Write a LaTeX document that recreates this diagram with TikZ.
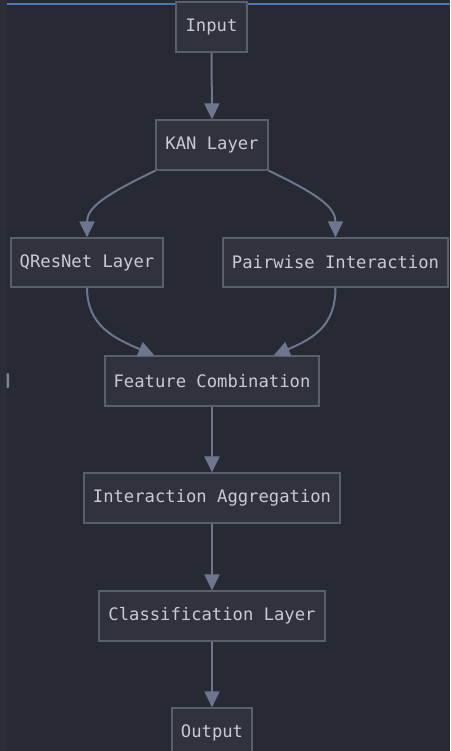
\documentclass[tikz,border=0pt]{standalone}
\usepackage{fontspec}
\newfontfamily\monofont{DejaVu Sans Mono}
\usetikzlibrary{arrows.meta,calc}

\definecolor{bgcol}{HTML}{272A33}
\definecolor{stripcol}{HTML}{2B2E36}
\definecolor{nodefill}{HTML}{30333D}
\definecolor{bordercol}{HTML}{5B5F6B}
\definecolor{textcol}{HTML}{C8CBD2}
\definecolor{edgecol}{HTML}{6C7690}
\definecolor{topblue}{HTML}{4A78B4}
\definecolor{markblue}{HTML}{5B8FD8}
\definecolor{markgrey}{HTML}{7F838C}

\begin{document}
\begin{tikzpicture}[x=1pt,y=-1pt,
  box/.style={draw=bordercol, fill=nodefill, line width=1.2pt,
    font=\monofont\fontsize{17.2}{20}\selectfont, text=textcol,
    inner sep=0pt, minimum height=50pt},
  flow/.style={draw=edgecol, line width=2pt,
    -{Triangle[length=16pt,width=15pt]}}]

% canvas
\useasboundingbox (0,0) rectangle (450,751);
\fill[bgcol] (0,0) rectangle (450,751);
\fill[stripcol] (0,0) rectangle (7,751);
\fill[topblue] (7,3) rectangle (450,5.5);
\fill[markblue] (227,1) rectangle (233,7.5);
\fill[markgrey, rounded corners=1pt] (6.5,373) rectangle (9,388);

% nodes
\node[box, minimum width=71pt]  (in)   at (211.5,27)  {Input};
\node[box, minimum width=112pt] (kan)  at (212,145)   {KAN Layer};
\node[box, minimum width=152pt, minimum height=49pt] (qres) at (87,262.5) {QResNet Layer};
\node[box, minimum width=225pt, minimum height=49pt] (pair) at (335.5,262.5) {Pairwise Interaction};
\node[box, minimum width=214pt] (feat) at (212,381)   {Feature Combination};
\node[box, minimum width=256pt] (agg)  at (212,498)   {Interaction Aggregation};
\node[box, minimum width=226pt] (cls)  at (212,616)   {Classification Layer};
\node[box, minimum width=80pt]  (out)  at (212,733)   {Output};

% merge points on top of the combination block
\coordinate (featL) at ($(feat.north west)+(50,0)$);
\coordinate (featR) at ($(feat.north east)+(-46,0)$);

% connectors
\draw[flow] (in.south) -- (kan.north);
\draw[flow] (kan.south west) .. controls +(-50,24) and +(0,-30) .. (qres.north);
\draw[flow] (kan.south east) .. controls +(50,24) and +(0,-30) .. (pair.north);
\draw[flow] (qres.south) .. controls +(0,38) and +(-40,-17) .. (featL);
\draw[flow] (pair.south) .. controls +(0,38) and +(40,-17) .. (featR);
\draw[flow] (feat.south) -- (agg.north);
\draw[flow] (agg.south) -- (cls.north);
\draw[flow] (cls.south) -- (out.north);
\end{tikzpicture}
\end{document}
